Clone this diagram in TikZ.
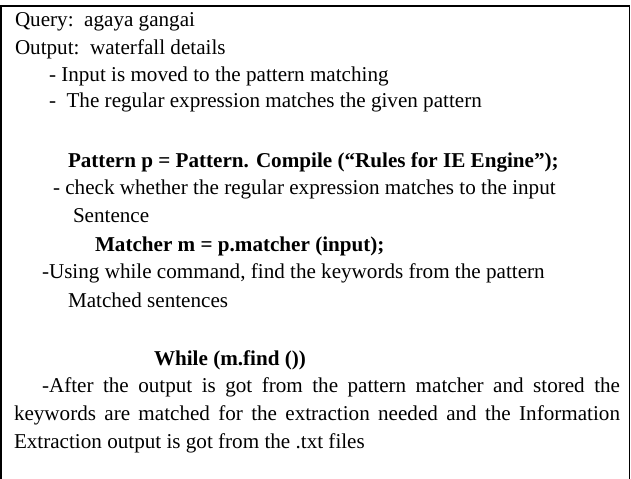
\documentclass[tikz,border=0pt]{standalone}
\usepackage{fontspec}
\setmainfont{Liberation Serif}
\begin{document}
\begin{tikzpicture}[x=1bp,y=-1bp,
  txt/.style={anchor=base west,inner sep=0pt,outer sep=0pt,font=\fontsize{21.2}{27}\selectfont},
  btxt/.style={txt,font=\fontsize{21.2}{27}\selectfont\bfseries},
  frame/.style={line width=1.7bp,draw=black}]
\useasboundingbox (0,0) rectangle (631,479);
\coordinate (bl) at (1,479);
\coordinate (tl) at (1,5.8);
\coordinate (tr) at (629.5,5.8);
\coordinate (br) at (629.5,479);
\draw[frame] (bl) -- (tl) -- (tr) -- (br);
\node[txt] (l1) at (15,27) {Query:\ \ agaya gangai};
\node[txt] (l2) at (15,55) {Output:\ \ waterfall details};
\node[txt] (l3) at (49,82) {- Input is moved to the pattern matching};
\node[txt] (l4) at (49,108) {-\ \ The regular expression matches the given pattern};
\node[btxt] (l5) at (68,168) {Pattern p = Pattern. Compile (“Rules for IE Engine”);};
\node[txt] (l6) at (53,195) {- check whether the regular expression matches to the input};
\node[txt] (l7) at (73,223) {Sentence};
\node[btxt] (l8) at (95,252) {Matcher m = p.matcher (input);};
\node[txt] (l9) at (42,278) {-Using while command, find the keywords from the pattern};
\node[txt] (l10) at (68,307) {Matched sentences};
\node[btxt] (l11) at (154,365) {While (m.find ())};
\node[txt] (l12) at (42,392) {\makebox[578bp][s]{-After the output is got from the pattern matcher and stored the}};
\node[txt] (l13) at (14,420) {\makebox[606bp][s]{keywords are matched for the extraction needed and the Information}};
\node[txt] (l14) at (14,448) {Extraction output is got from the .txt files};
\end{tikzpicture}
\end{document}
